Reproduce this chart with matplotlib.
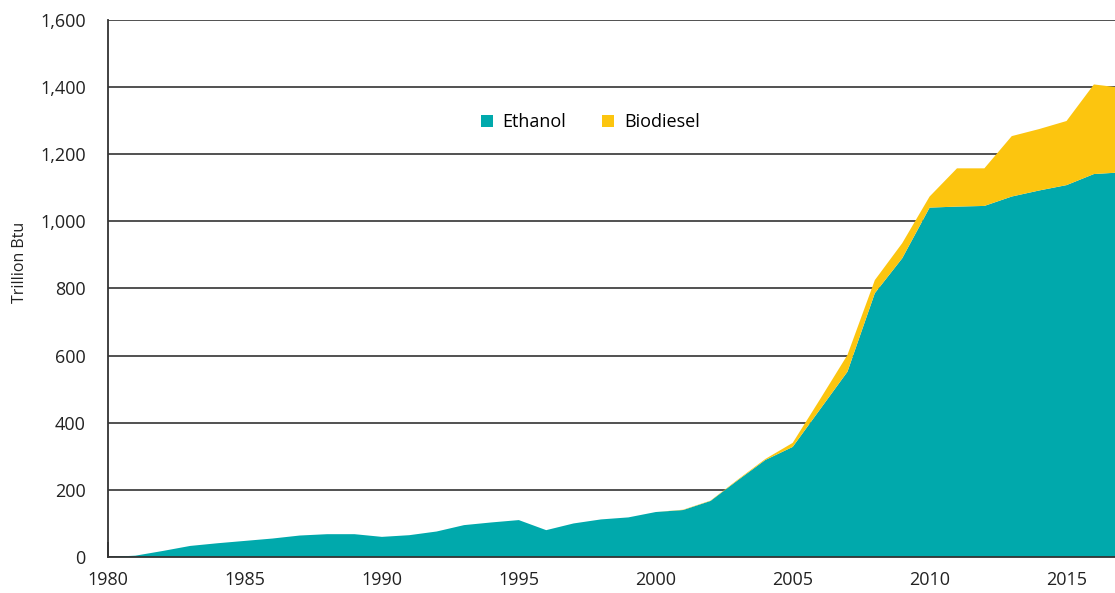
import matplotlib.pyplot as plt
from matplotlib.patches import Patch

years = list(range(1980, 2018))
ethanol = [0, 4, 18, 33, 41, 48, 55, 64, 68, 68, 60, 65, 76, 95, 103, 110, 80, 100,
           112, 118, 134, 140, 167, 229, 289, 328, 440, 552, 786, 890, 1041, 1044,
           1046, 1074, 1092, 1108, 1141, 1146]
biodiesel = [0, 0, 0, 0, 0, 0, 0, 0, 0, 0, 0, 0, 0, 0, 0, 0, 0, 0,
             0, 0, 0, 1, 1, 2, 3, 12, 30, 50, 39, 45, 33, 114,
             112, 180, 183, 191, 267, 252]
labels = ['Ethanol', 'Biodiesel']
colors = ['#00a9ac', '#fcc50f']

plt.rcParams['font.family'] = ['Open Sans', 'DejaVu Sans']

fig = plt.figure(figsize=(11.15, 5.93), dpi=100)
ax = fig.add_axes([0.0969, 0.0607, 1 - 0.0969, 0.9056])

ax.stackplot(years, ethanol, biodiesel, colors=colors, linewidth=0)

ax.set_xlim(1980, 2016.77)
ax.set_ylim(0, 1600)
ax.set_yticks(range(0, 1601, 200))
ax.set_yticklabels([f'{v:,}' for v in range(0, 1601, 200)])
ax.set_xticks(range(1980, 2016, 5))

ax.grid(axis='y', color='#333333', linewidth=1.2)
ax.set_axisbelow(True)
for s in ['top', 'right']:
    ax.spines[s].set_visible(False)
for s in ['left', 'bottom']:
    ax.spines[s].set_color('#333333')
    ax.spines[s].set_linewidth(1.3)

ax.tick_params(axis='y', length=0, pad=16, labelsize=13, labelcolor='#222222')
ax.tick_params(axis='x', direction='in', length=11, width=1.3, color='#333333',
               pad=10, labelsize=13, labelcolor='#222222')

ax.set_ylabel('Trillion Btu', fontsize=11.5, color='#222222')
ax.yaxis.set_label_coords(-0.079, 0.549)

handles = [Patch(facecolor=c, edgecolor='none') for c in colors]
ax.legend(handles, labels, loc='center', bbox_to_anchor=(0.479, 0.81), ncol=2,
          frameon=False, fontsize=13, handlelength=0.65, handleheight=0.65,
          handletextpad=0.55, columnspacing=2.0)

fig.savefig('out.png', dpi=100)
